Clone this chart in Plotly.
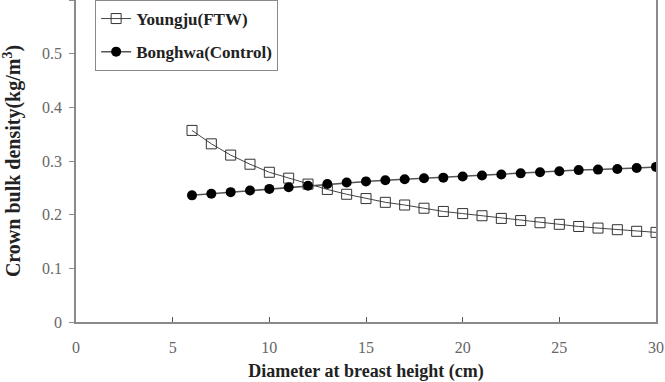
import plotly.graph_objects as go

dbh = list(range(6, 31))
youngju = [0.357, 0.332, 0.311, 0.294, 0.279, 0.268, 0.257, 0.247, 0.238, 0.230,
           0.223, 0.218, 0.212, 0.206, 0.202, 0.198, 0.193, 0.189, 0.185, 0.182,
           0.178, 0.175, 0.172, 0.169, 0.167]
bonghwa = [0.236, 0.239, 0.242, 0.245, 0.248, 0.251, 0.254, 0.257, 0.260, 0.262,
           0.264, 0.266, 0.268, 0.269, 0.271, 0.273, 0.275, 0.277, 0.279, 0.281,
           0.283, 0.284, 0.285, 0.287, 0.289]
x_ticks = [0, 5, 10, 15, 20, 25, 30]
y_ticks = [0, 0.1, 0.2, 0.3, 0.4, 0.5, 0.6]
y_tick_labels = ["0", "0.1", "0.2", "0.3", "0.4", "0.5", "0.6"]

serif = "Liberation Serif, Times New Roman, serif"

fig = go.Figure()
fig.add_trace(go.Scatter(
    x=dbh, y=youngju, mode="lines+markers", name="Youngju(FTW)",
    legendgroup="a",
    line=dict(color="#444444", width=1),
    marker=dict(symbol="square-open", size=10, color="#333333", line=dict(width=1, color="#333333")),
))
fig.add_trace(go.Scatter(
    x=dbh, y=bonghwa, mode="lines+markers", name="Bonghwa(Control)",
    legendgroup="b",
    line=dict(color="#555555", width=1.5),
    marker=dict(symbol="circle", size=10, color="#000000"),
))

axis_color = "#8a8a8a"
fig.update_layout(
    width=665, height=382,
    margin=dict(l=76, r=9, t=0, b=60),
    paper_bgcolor="white", plot_bgcolor="white",
    font=dict(family=serif, color="#222222"),
    showlegend=True,
    legend=dict(
        x=0.033, y=1.0, xanchor="left", yanchor="top",
        bordercolor=axis_color, borderwidth=1, bgcolor="white",
        font=dict(family=serif, size=17, color="#222222", weight="bold"),
        tracegroupgap=8, entrywidth=159, itemwidth=30,
    ),
    xaxis=dict(
        range=[0, 30], tickvals=x_ticks, ticktext=[str(v) for v in x_ticks],
        showgrid=False, zeroline=False, automargin=False,
        showline=True, linecolor=axis_color, linewidth=1.5, mirror=True,
        ticks="inside", ticklen=5, tickcolor="#555555",
        tickfont=dict(family=serif, size=16, color="#666666"),
        ticklabelstandoff=10,
        title=dict(text="<b>Diameter at breast height (cm)</b>",
                   font=dict(family=serif, size=18, color="#222222"), standoff=10),
    ),
    yaxis=dict(
        range=[0, 0.6], tickvals=y_ticks, ticktext=y_tick_labels,
        showgrid=False, zeroline=False, automargin=False,
        showline=True, linecolor=axis_color, linewidth=1.5, mirror=True,
        ticks="outside", ticklen=5, tickcolor=axis_color,
        tickfont=dict(family=serif, size=16, color="#666666"),
        ticklabelstandoff=4,
        title=dict(text="<b>Crown bulk density(kg/m<sup>3</sup>)</b>",
                   font=dict(family=serif, size=20, color="#222222"), standoff=16),
    ),
)

fig.write_html("out.html")
